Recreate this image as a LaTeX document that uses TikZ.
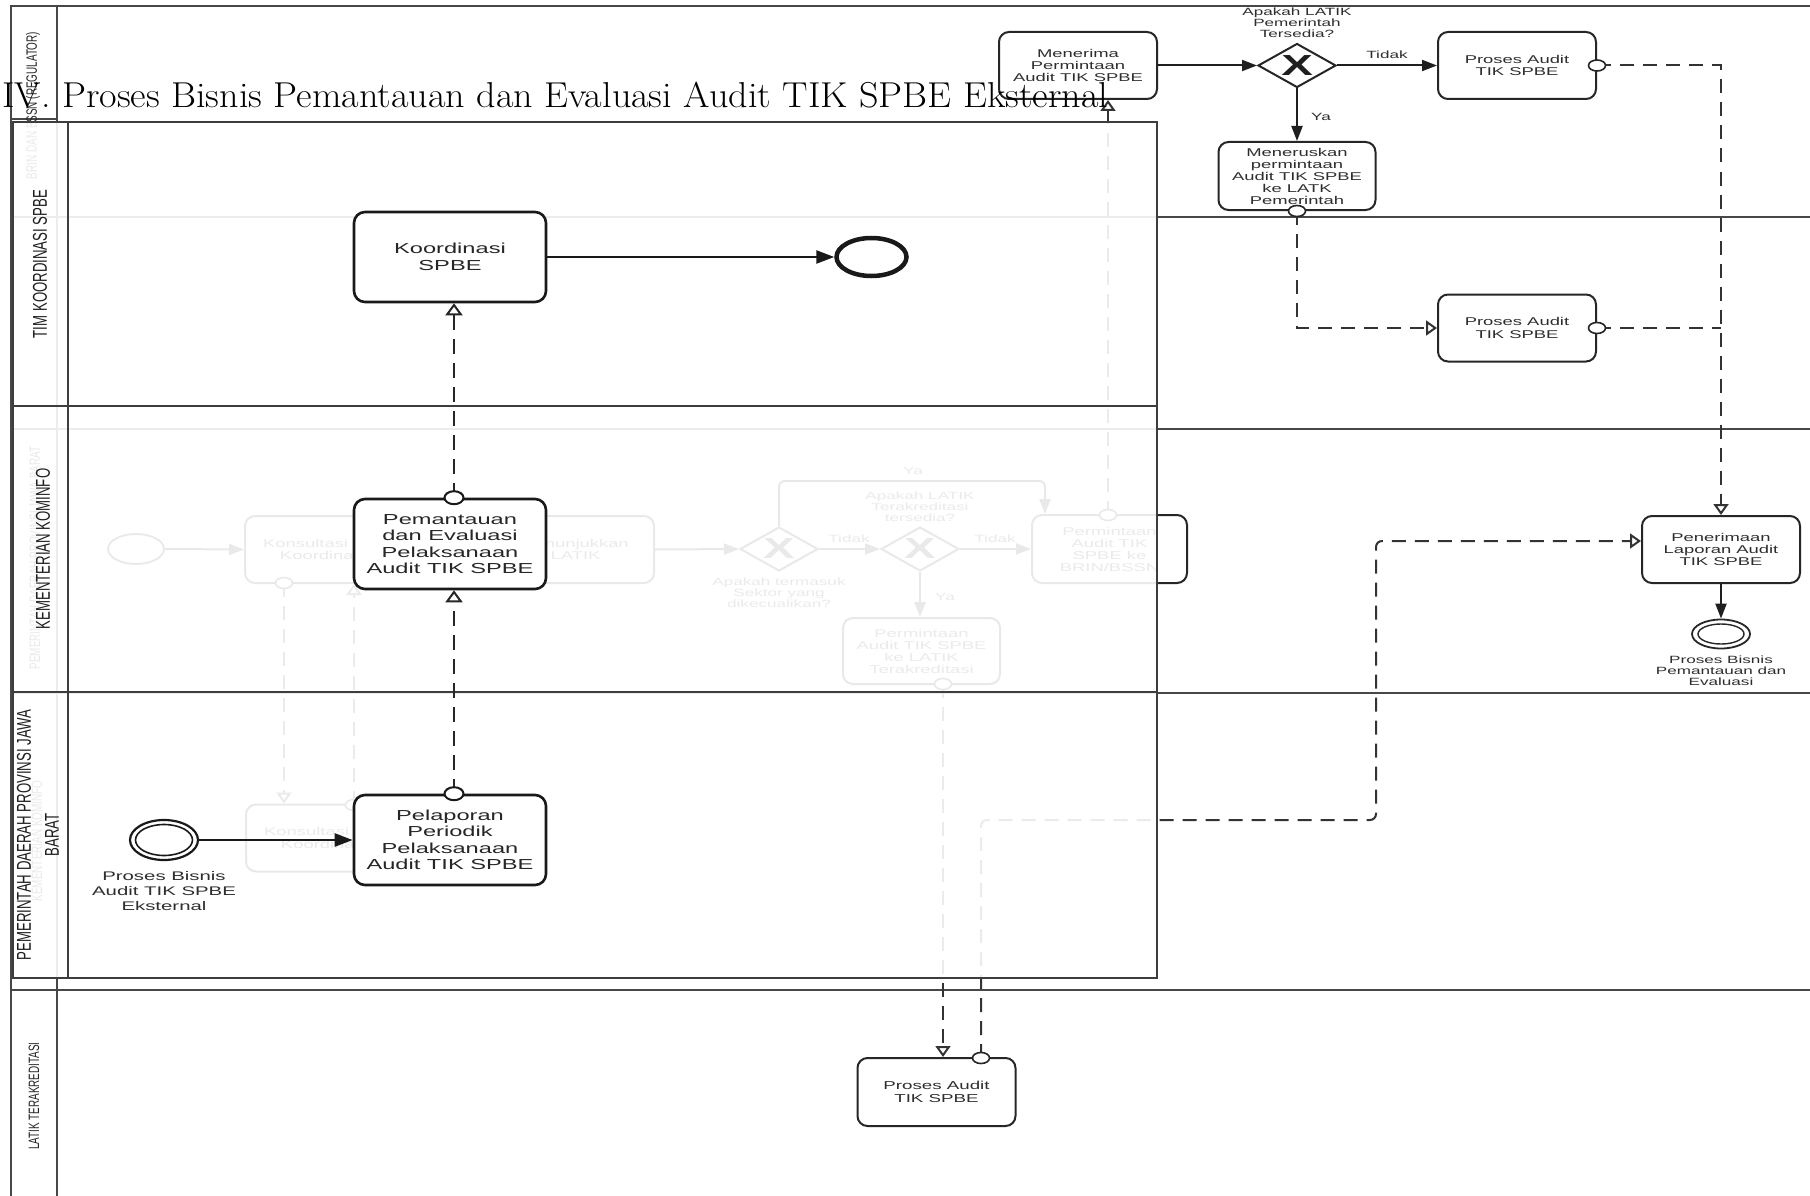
\documentclass[tikz,border=0pt]{standalone}
\usepackage{fontspec}
\usepackage{graphicx}
\usetikzlibrary{arrows.meta,shapes.geometric}
\newfontfamily\wf[FakeStretch=1.63]{Liberation Sans}
\newfontfamily\nf[FakeStretch=0.66]{Liberation Sans}
\begin{document}
\begin{tikzpicture}[x=1pt,y=-1pt,
  poolA/.style={draw=black!72,line width=2pt},
  poolB/.style={draw=black!76,line width=2.8pt},
  boxA/.style={draw=black!85,line width=2pt,rounded corners=10pt,fill=white,align=center,inner sep=0pt,text=black!82,minimum width=157pt,minimum height=67pt,font=\wf\fontsize{11.3}{12.4}\selectfont},
  boxB/.style={draw=black!90,line width=2.6pt,rounded corners=11pt,fill=white,align=center,inner sep=0pt,text=black!85,minimum width=192pt,minimum height=90pt,font=\wf\fontsize{14.5}{16.4}\selectfont},
  seqA/.style={line width=2pt,draw=black!88,-{Triangle[length=15pt,width=11pt]}},
  seqB/.style={line width=2.4pt,draw=black!90,-{Triangle[length=18pt,width=13pt]}},
  msgA/.style={line width=2pt,draw=black!80,dash pattern=on 14pt off 9pt,-{Triangle[open,length=11pt,width=15pt,fill=white]}},
  msgAl/.style={line width=2pt,draw=black!80,dash pattern=on 14pt off 9pt},
  msgB/.style={line width=2.6pt,draw=black!85,dash pattern=on 15pt off 9pt,-{Triangle[open,length=12pt,width=17pt,fill=white,line width=2pt]}},
  dotA/.style={draw=black!85,line width=1.6pt,fill=white,ellipse,minimum width=17pt,minimum height=11pt,inner sep=0pt},
  dotB/.style={draw=black!90,line width=2pt,fill=white,ellipse,minimum width=19pt,minimum height=13pt,inner sep=0pt},
  gw/.style={draw=black!85,line width=2pt,fill=white,diamond,minimum width=78pt,minimum height=44pt,inner sep=0pt},
  gwx/.style={inner sep=0pt,text=black!88,font=\wf\bfseries\fontsize{29}{29}\selectfont},
  evt/.style={draw=black!85,line width=1.8pt,fill=white,ellipse,inner sep=0pt},
  lbl/.style={align=center,inner sep=0pt,text=black!82,font=\wf\fontsize{10.5}{11}\selectfont},
  laneB/.style={rotate=90,align=center,inner sep=0pt,text=black!88,font=\nf\fontsize{20}{28}\selectfont},
  laneA/.style={rotate=90,align=center,inner sep=0pt,text=black!85,font=\nf\fontsize{15}{18}\selectfont},
]
\useasboundingbox (0,0) rectangle (1810,1196);
\fill[white] (0,0) rectangle (1810,1196);

% ================= background pool (A) =================
\draw[poolA] (11,1210) -- (11,6) -- (1820,6);
\draw[poolA] (57,6) -- (57,1210);
\draw[poolA] (11,119) -- (57,119);
\draw[poolA] (11,217) -- (1820,217);
\draw[poolA] (11,429) -- (1820,429);
\draw[poolA] (11,693) -- (1820,693);
\draw[poolA] (11,990) -- (1820,990);

\node[laneA] (lA1) at (33,105.5) {BRIN DAN BSSN (REGULATOR)};
\node[laneA] (lA3) at (35,558) {PEMERINTAH DAERAH PROVINSI JAWA BARAT};
\node[laneA] (lA4) at (37,841) {KEMENTERIAN KOMINFO};
\node[laneA] (lA5) at (34,1096) {LATIK TERAKREDITASI};

% top lane
\node[boxA,minimum width=158pt] (men) at (1078,65.5) {Menerima\\Permintaan\\Audit TIK SPBE};
\node[gw] (g0) at (1297,65.5) {};
\node[gwx] (g0x) at (g0) {X};
\node[lbl] (g0l) at (1297,22.5) {Apakah LATIK\\Pemerintah\\Tersedia?};
\node[boxA,minimum width=158pt] (pa1) at (1517,65.5) {Proses Audit\\TIK SPBE};
\node[boxA,minimum height=68pt,font=\wf\fontsize{11.3}{12}\selectfont] (mer) at (1297,176) {Meneruskan\\permintaan\\Audit TIK SPBE\\ke LATK\\Pemerintah};
\draw[seqA] (men.east) -- (g0.west);
\draw[seqA] (g0.east) -- (pa1.west);
\node[lbl] (t0) at (1387,55) {Tidak};
\draw[seqA] (g0.south) -- (mer.north);
\node[lbl] (y0) at (1321,117) {Ya};

\node[boxA,minimum width=158pt] (pa2) at (1517,328) {Proses Audit\\TIK SPBE};
\node[boxA,minimum width=158pt] (pen) at (1721,549.5) {Penerimaan\\Laporan Audit\\TIK SPBE};
\draw[msgA] (mer.south) |- (pa2.west);
\node[dotA] (d1) at (mer.south) {};
\draw[msgA] (pa1.east) -| (pen.north);
\node[dotA] (d2) at (pa1.east) {};
\draw[msgAl] (pa2.east) -- (pa2.east -| pen.north);
\node[dotA] (d3) at (pa2.east) {};

\node[evt,minimum width=58pt,minimum height=29pt] (ee) at (1721,634) {};
\node[evt,line width=1.4pt,minimum width=46pt,minimum height=20pt] (eei) at (ee) {};
\draw[seqA] (pen.south) -- (ee.north);
\node[lbl] (eel) at (1721,671) {Proses Bisnis\\Pemantauan dan\\Evaluasi};

% LATIK lane
\node[boxA,minimum width=158pt,minimum height=68pt,font=\wf\fontsize{11.5}{13}\selectfont] (pab) at (936.5,1092) {Proses Audit\\TIK SPBE};
\coordinate (pabc) at (981,1058);
\coordinate (k1) at (1376,820);
\draw[msgA,rounded corners=6pt] (pabc) |- (k1) |- ([yshift=8.5pt]pen.west);
\node[dotA] (d4) at (pabc) {};

% ghost process (lies under the front pool)
\node[evt,minimum width=56pt,minimum height=30pt] (gs) at (136,549) {};
\node[boxA] (gk1) at (323.5,549.5) {Konsultasi dan\\Koordinasi};
\node[boxA] (gpl) at (575.5,549.5) {Penunjukkan\\LATIK};
\node[gw] (gg1) at (779,549) {};
\node[gwx] (gg1x) at (gg1) {X};
\node[lbl] (gg1l) at (779,593) {Apakah termasuk\\Sektor yang\\dikecualikan?};
\node[gw] (gg2) at (920,549) {};
\node[gwx] (gg2x) at (gg2) {X};
\node[lbl] (gg2l) at (920,507) {Apakah LATIK\\Terakreditasi\\tersedia?};
\node[boxA,minimum width=155pt,minimum height=68pt,font=\wf\fontsize{11.3}{12}\selectfont] (gbr) at (1109.5,549) {Permintaan\\Audit TIK\\SPBE ke\\BRIN/BSSN};
\node[boxA,minimum height=66pt,font=\wf\fontsize{11.3}{12}\selectfont] (glt) at (921.5,651) {Permintaan\\Audit TIK SPBE\\ke LATIK\\Terakreditasi};
\draw[seqA] (gs.east) -- (gk1.west);
\draw[seqA] (gk1.east) -- (gpl.west);
\draw[seqA] (gpl.east) -- (gg1.west);
\draw[seqA] (gg1.east) -- (gg2.west);
\node[lbl] (gt1) at (849,539) {Tidak};
\draw[seqA] (gg2.east) -- (gbr.west);
\node[lbl] (gt2) at (995,539) {Tidak};
\coordinate (gy) at (1045,481);
\draw[seqA,rounded corners=6pt] (gg1.north) |- (gy) -- (gy |- gbr.north);
\node[lbl] (gy1) at (913,471) {Ya};
\draw[seqA] (gg2.south) -- (gg2.south |- glt.north);
\node[lbl] (gy2) at (945,597) {Ya};
\coordinate (glc) at (943,684);
\draw[msgA] (glc) -- (glc |- pab.north);
\node[dotA] (d5) at (glc) {};
\coordinate (gbc) at (1108,515);
\draw[msgA] (gbc) -- (gbc |- men.south);
\node[dotA] (d6) at (gbc) {};
\node[boxA] (gk2) at (324.5,838) {Konsultasi dan\\Koordinasi};
\coordinate (gc1) at (284,583);
\draw[msgA] (gc1) -- (gc1 |- gk2.north);
\node[dotA] (d7) at (gc1) {};
\coordinate (gc2) at (354,805);
\draw[msgA] (gc2) -- (gc2 |- gk1.south);
\node[dotA] (d8) at (gc2) {};

% ================= front pool (B) =================
\fill[white,opacity=0.9] (13,122) rectangle (1157,978);
\draw[poolB] (13,122) rectangle (1157,978);
\draw[poolB] (68,122) -- (68,978);
\draw[poolB] (13,406) -- (1157,406);
\draw[poolB] (13,692) -- (1157,692);
\node[laneB] (lB1) at (40,264) {TIM KOORDINASI SPBE};
\node[laneB] (lB2) at (43,549) {KEMENTERIAN KOMINFO};
\node[laneB] (lB3) at (38,835) {PEMERINTAH DAERAH PROVINSI JAWA\\BARAT};

\node[boxB] (ko) at (450,257) {Koordinasi\\SPBE};
\node[evt,draw=black!90,line width=4.5pt,minimum width=70pt,minimum height=38pt] (koe) at (871.5,257) {};
\draw[seqB] (ko.east) -- (koe.west);

\node[boxB] (pe) at (450,544) {Pemantauan\\dan Evaluasi\\Pelaksanaan\\Audit TIK SPBE};
\node[boxB] (pl) at (450,840) {Pelaporan\\Periodik\\Pelaksanaan\\Audit TIK SPBE};

\node[evt,draw=black!90,line width=2.2pt,minimum width=68pt,minimum height=40pt] (st) at (164,840) {};
\node[evt,draw=black!90,line width=1.6pt,minimum width=57pt,minimum height=31pt] (sti) at (st) {};
\draw[seqB] (st.east) -- (pl.west);
\node[lbl,font=\wf\fontsize{12.5}{15}\selectfont] (stl) at (164,891) {Proses Bisnis\\Audit TIK SPBE\\Eksternal};

\draw[msgB] ([xshift=4pt]pl.north) -- ([xshift=4pt]pe.south);
\node[dotB] (d9) at ([xshift=4pt]pl.north) {};
\draw[msgB] ([xshift=4pt]pe.north) -- ([xshift=4pt]ko.south);
\node[dotB] (d10) at ([xshift=4pt]pe.north) {};

% ================= title =================
\node[anchor=base west,inner sep=0pt,text=black] (title) at (2,108) {\resizebox{1106pt}{\height}{\fontsize{36}{40}\selectfont IV. Proses Bisnis Pemantauan dan Evaluasi Audit TIK SPBE Eksternal}};
\end{tikzpicture}
\end{document}
